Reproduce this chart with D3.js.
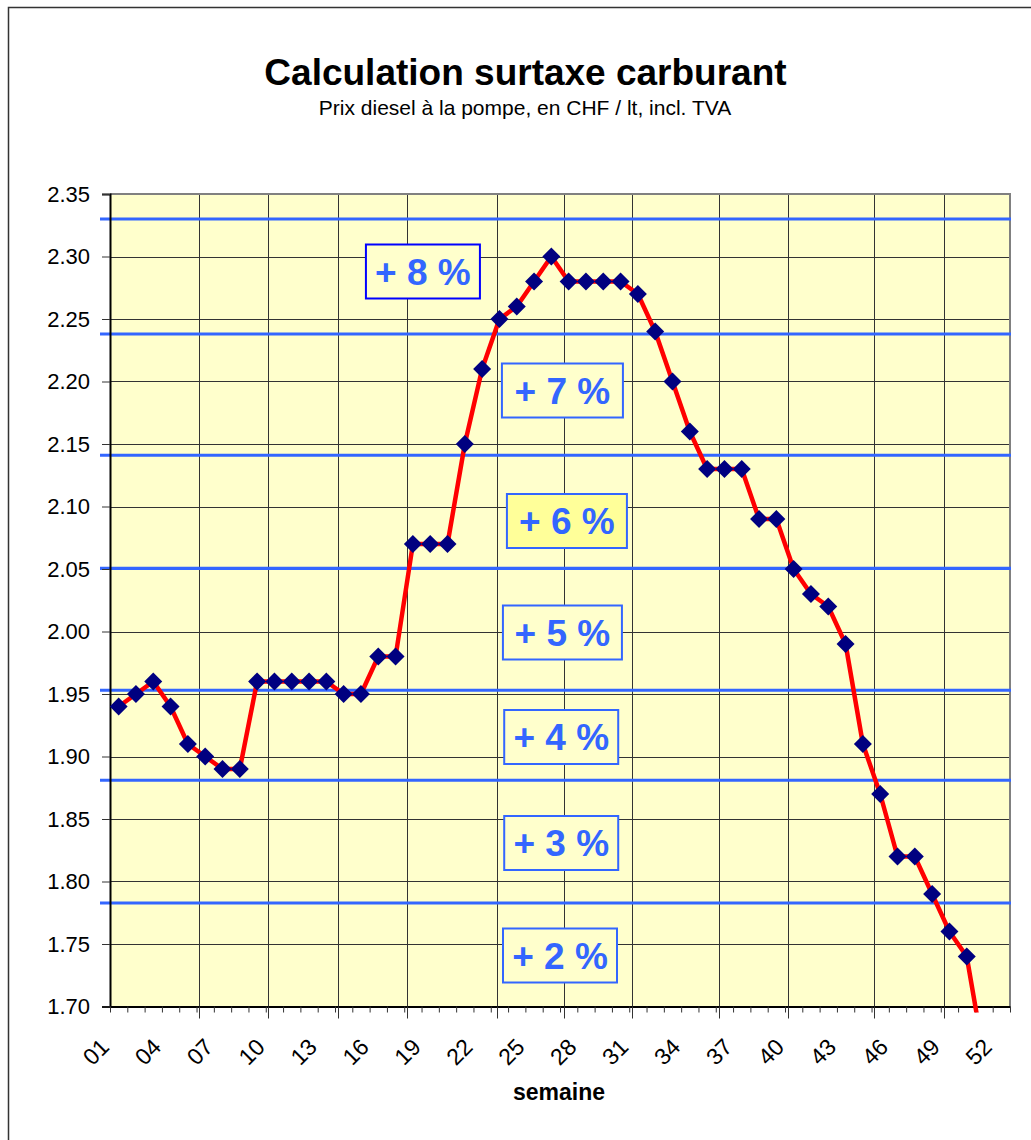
<!DOCTYPE html>
<html>
<head>
<meta charset="utf-8">
<script src="https://cdn.jsdelivr.net/npm/d3@7"></script>
<style>
  html, body { margin: 0; padding: 0; background: #fff; }
  svg { display: block; font-family: "Liberation Sans", Arial, sans-serif; }
</style>
</head>
<body>
<svg id="chart" width="1031" height="1140"></svg>
<script>
// ---------- data ----------
const categories = ["01","02","03","04","05","06","07","08","09","10","11","12","13",
  "14","15","16","17","18","19","20","21","22","23","24","25","26","27","28","29","30",
  "31","32","33","34","35","36","37","38","39","40","41","42","43","44","45","46","47",
  "48","49","50","51","52"];
const prices = [1.94,1.95,1.96,1.94,1.91,1.90,1.89,1.89,1.96,1.96,1.96,1.96,1.96,
  1.95,1.95,1.98,1.98,2.07,2.07,2.07,2.15,2.21,2.25,2.26,2.28,2.30,2.28,2.28,2.28,2.28,
  2.27,2.24,2.20,2.16,2.13,2.13,2.13,2.09,2.09,2.05,2.03,2.02,1.99,1.91,1.87,1.82,1.82,
  1.79,1.76,1.74,1.66];
const xTickLabels = ["01","04","07","10","13","16","19","22","25","28","31","34","37","40","43","46","49","52"];
const yTicks = [1.70,1.75,1.80,1.85,1.90,1.95,2.00,2.05,2.10,2.15,2.20,2.25,2.30,2.35];
const monthGrid = [5.14,9.14,13.15,17.18,22.34,26.25,30.14,35.18,39.18,44.15,48.16];
const thresholds = [2.330,2.238,2.141,2.0505,1.953,1.881,1.7828];
const surtaxLabels = ["+ 8 %","+ 7 %","+ 6 %","+ 5 %","+ 4 %","+ 3 %","+ 2 %"];
const labelWeek = [18.08,26.14,26.40,26.14,26.07,26.07,26.00];
const labelPrice = [2.288,2.1928,2.0884,1.9992,1.9156,1.8308,1.7408];
const title = "Calculation surtaxe carburant";
const subtitle = "Prix diesel à la pompe, en CHF / lt, incl. TVA";
const xTitle = "semaine";

// ---------- layout ----------
const L = 110, R = 1010, T = 194, B = 1006.5;
const svg = d3.select("#chart");

// outer frame
svg.append("rect").attr("x", 8.5).attr("y", 7.5).attr("width", 1200).attr("height", 1300)
  .attr("fill", "#fff").attr("stroke", "#333").attr("stroke-width", 1.5);

const x = d3.scaleBand().domain(categories).range([L, R]).padding(0);
const xl = d3.scaleLinear().domain([0, categories.length]).range([L, R]);
const y = d3.scaleLinear().domain([1.70, 2.35]).range([B, T]);

// plot background
svg.append("rect").attr("x", L).attr("y", T).attr("width", R - L).attr("height", B - T)
  .attr("fill", "#FFFFCC");

// horizontal gridlines
svg.append("g").selectAll("line").data(yTicks.slice(1)).join("line")
  .attr("x1", L).attr("x2", R)
  .attr("y1", d => Math.round(y(d)) + 0.5).attr("y2", d => Math.round(y(d)) + 0.5)
  .attr("stroke", "#333").attr("stroke-width", 1);

// vertical gridlines (month boundaries)
svg.append("g").selectAll("line").data(monthGrid).join("line")
  .attr("x1", d => Math.round(xl(d)) + 0.5).attr("x2", d => Math.round(xl(d)) + 0.5)
  .attr("y1", T).attr("y2", B)
  .attr("stroke", "#333").attr("stroke-width", 1);

// plot border top/right
svg.append("path")
  .attr("d", `M${L},${T}H${R}V${B}`)
  .attr("fill", "none").attr("stroke", "#808080").attr("stroke-width", 2);

// threshold lines
svg.append("g").selectAll("line").data(thresholds).join("line")
  .attr("x1", 100).attr("x2", 1011)
  .attr("y1", d => y(d)).attr("y2", d => y(d))
  .attr("stroke", "#3366FF").attr("stroke-width", 3.2);

// y axis
const yAxis = svg.append("g").attr("transform", `translate(${L},0)`)
  .call(d3.axisLeft(y).tickValues(yTicks).tickFormat(d3.format(".2f")).tickSize(8).tickPadding(12));
yAxis.select(".domain").attr("stroke", "#000").attr("stroke-width", 2);
yAxis.selectAll(".tick line").attr("stroke", "#333");
yAxis.selectAll(".tick text").attr("font-size", 22).attr("fill", "#000")
  .attr("font-family", "Liberation Sans, Arial, sans-serif");

// x axis: ticks at category boundaries
const xAxis = svg.append("g").attr("transform", `translate(0,${B})`)
  .call(d3.axisBottom(xl).tickValues(d3.range(0, categories.length + 1)).tickFormat("").tickSize(6).tickSizeOuter(0));
xAxis.select(".domain").attr("stroke", "#000").attr("stroke-width", 2);
xAxis.selectAll(".tick line").attr("stroke", "#333");
// longer ticks at month boundaries
svg.append("g").selectAll("line").data(monthGrid).join("line")
  .attr("x1", d => Math.round(xl(d)) + 0.5).attr("x2", d => Math.round(xl(d)) + 0.5)
  .attr("y1", B).attr("y2", B + 12).attr("stroke", "#333");

// x tick labels
svg.append("g").selectAll("text").data(xTickLabels).join("text")
  .attr("transform", d => `translate(${x(d) + x.bandwidth() / 2 - 8},${B + 42}) rotate(-45)`)
  .attr("text-anchor", "end").attr("font-size", 23).attr("fill", "#000")
  .text(d => d);

// x title
svg.append("text").attr("x", 559).attr("y", 1100).attr("text-anchor", "middle")
  .attr("font-size", 23).attr("font-weight", "bold").text(xTitle);

// titles
svg.append("text").attr("x", 525.5).attr("y", 85).attr("text-anchor", "middle")
  .attr("font-size", 37).attr("font-weight", "bold").text(title);
svg.append("text").attr("x", 525).attr("y", 115).attr("text-anchor", "middle")
  .attr("font-size", 21).text(subtitle);

// series
svg.append("clipPath").attr("id", "clip").append("rect")
  .attr("x", L).attr("y", T - 10).attr("width", R - L).attr("height", B - T + 16);
const gSeries = svg.append("g").attr("clip-path", "url(#clip)");
const pts = prices.map((v, i) => [x(categories[i]) + x.bandwidth() / 2, y(v)]);
gSeries.append("path").attr("d", d3.line()(pts))
  .attr("fill", "none").attr("stroke", "#FF0000").attr("stroke-width", 4.5).attr("stroke-linejoin", "round");
const s = 9;
gSeries.selectAll("path.m").data(pts.filter(p => p[1] <= B)).join("path").attr("class", "m")
  .attr("d", p => `M${p[0]},${p[1] - s}L${p[0] + s},${p[1]}L${p[0]},${p[1] + s}L${p[0] - s},${p[1]}Z`)
  .attr("fill", "#000080");

// surtax label boxes
const boxW = [114,121,120,119,114,114,114];
const gLab = svg.append("g").selectAll("g").data(surtaxLabels).join("g")
  .attr("transform", (d, i) => `translate(${xl(labelWeek[i])},${y(labelPrice[i])})`);
gLab.append("rect")
  .attr("x", (d, i) => -boxW[i] / 2).attr("y", -27).attr("width", (d, i) => boxW[i]).attr("height", 54)
  .attr("fill", (d, i) => i === 2 ? "#FFFF99" : "#FFFFCC")
  .attr("stroke", (d, i) => i === 0 ? "#0000FF" : "#3366FF").attr("stroke-width", 2);
gLab.append("text").attr("text-anchor", "middle").attr("y", 13)
  .attr("font-size", 37).attr("font-weight", "bold").attr("fill", "#3366FF")
  .text(d => d);
</script>
</body>
</html>
